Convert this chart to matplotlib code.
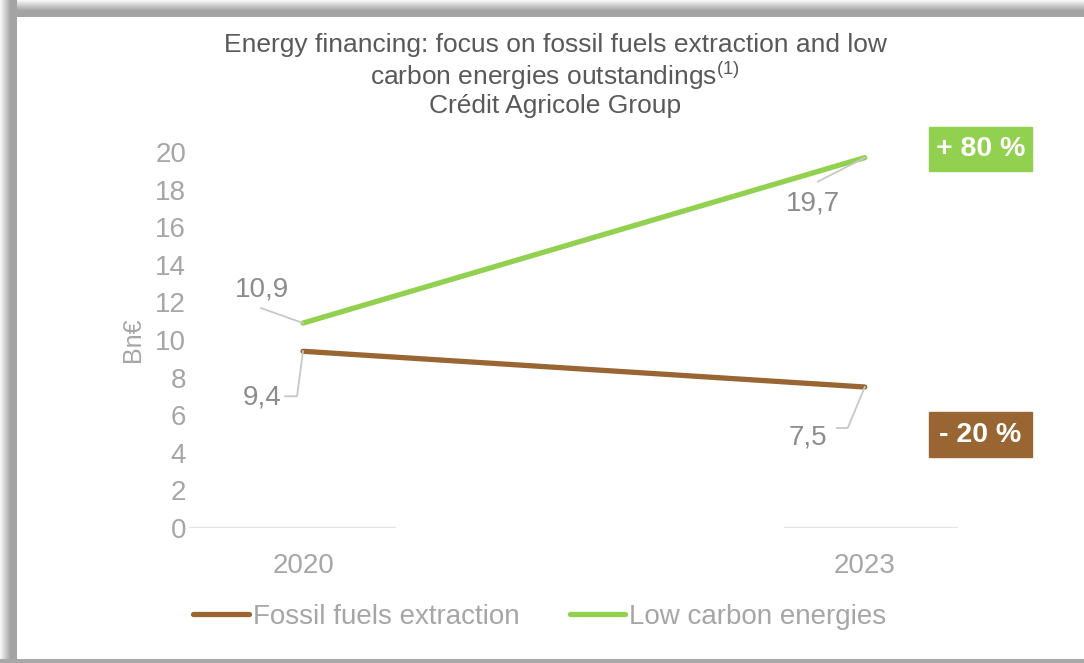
import matplotlib
matplotlib.use("Agg")
import matplotlib.pyplot as plt
import numpy as np
from matplotlib.lines import Line2D

plt.rcParams['font.family'] = ['Liberation Sans', 'DejaVu Sans']
plt.rcParams['mathtext.fontset'] = 'custom'
plt.rcParams['mathtext.rm'] = 'Liberation Sans'

years = ['2020', '2023']
fossil = [9.4, 7.5]
low_carbon = [10.9, 19.7]
fossil_labels = ['9,4', '7,5']
low_carbon_labels = ['10,9', '19,7']
yticks = list(range(0, 21, 2))

BROWN = '#996633'
GREEN = '#92d050'
TICK_GREY = '#a6a6a6'
LABEL_GREY = '#8c8c8c'
LEADER_GREY = '#c8c8c8'
FS = 20

W, H = 1084, 663
fig = plt.figure(figsize=(W / 100, H / 100), dpi=100)

# drop-shadow style frame around the chart area
bg = np.ones((H, W, 3))
shade = 0.64
for i in range(17):
    v = 1 - (1 - shade) * min(1.0, (i + 1) / 11.0)
    bg[:, i, :] = np.minimum(bg[:, i, :], v)
    bg[i, i:, :] = np.minimum(bg[i, i:, :], v)
bg[H - 4:, :, :] = 0.66
fig.figimage(bg[::-1], xo=0, yo=0, origin='lower', zorder=-5)

ax = fig.add_axes([189 / W, 1 - 528 / H, (958 - 189) / W, (528 - 152) / H])
ax.patch.set_alpha(0)
x = np.arange(len(years))

ax.plot(x, fossil, color=BROWN, lw=3.8, solid_capstyle='round', clip_on=False, zorder=3,
        label='Fossil fuels extraction')
ax.plot(x, low_carbon, color=GREEN, lw=3.8, solid_capstyle='round', clip_on=False, zorder=3,
        label='Low carbon energies')

ax.set_xlim(-0.203, 1.166)
ax.set_ylim(0, 20)
ax.set_xticks(x)
ax.set_xticklabels(years)
ax.set_yticks(yticks)
ax.tick_params(length=0, labelsize=FS, labelcolor=TICK_GREY)
ax.tick_params(axis='x', pad=18)
ax.tick_params(axis='y', pad=2)
for s in ax.spines.values():
    s.set_visible(False)

# zero line is broken in the middle
ax.axhline(0, xmin=0, xmax=0.268, color='#e3e3e3', lw=1.6)
ax.axhline(0, xmin=0.775, xmax=1, color='#e3e3e3', lw=1.6)

ax.set_ylabel('Bn€', fontsize=18, color=TICK_GREY)
ax.yaxis.set_label_coords(-0.057, 0.5)

fig.canvas.draw()


def leader(xi, yi, pts):
    px, py = ax.transData.transform((xi, yi))
    xs = [px + dx for dx, dy in pts]
    ys = [py + dy for dx, dy in pts]
    fig.add_artist(Line2D(xs, ys, transform=None, color=LEADER_GREY, lw=1.3, zorder=2))


def label(xi, yi, txt, dx, dy):
    ax.annotate(txt, (xi, yi), xytext=(dx, dy), textcoords='offset pixels',
                ha='center', va='center', fontsize=FS, color=LABEL_GREY)


label(0, low_carbon[0], low_carbon_labels[0], -41, 34)
leader(0, low_carbon[0], [(0, 0), (-42, 15)])
label(0, fossil[0], fossil_labels[0], -41, -46)
leader(0, fossil[0], [(0, 0), (-6, -45), (-18, -45)])
label(1, low_carbon[1], low_carbon_labels[1], -52, -46)
leader(1, low_carbon[1], [(0, 0), (-47, -24)])
label(1, fossil[1], fossil_labels[1], -57, -50)
leader(1, fossil[1], [(0, 0), (-17, -41), (-28, -41)])

# change badges
green_pct = int((low_carbon[1] / low_carbon[0] - 1) * 100)
brown_pct = int((fossil[1] / fossil[0] - 1) * 100)
badge_green = '+ %d %%' % green_pct
badge_brown = '- %d %%' % abs(brown_pct)
for txt, col, y0, y1 in [(badge_green, GREEN, 127, 171), (badge_brown, BROWN, 412, 457)]:
    fig.add_artist(plt.Rectangle((929 / W, 1 - y1 / H), (1032 - 929) / W, (y1 - y0) / H,
                                 transform=fig.transFigure, color=col, zorder=2))
    fig.text(980.5 / W, 1 - (y0 + y1) / 2 / H, txt, ha='center', va='center',
             fontsize=20.5, fontweight='bold', color='white', zorder=3)

# title
title_col = '#595959'
fig.text(555 / W, 1 - 45 / H, 'Energy financing: focus on fossil fuels extraction and low',
         ha='center', va='center', fontsize=19, color=title_col)
fig.text(555 / W, 1 - 76 / H, r'carbon energies outstandings$^{\mathrm{(1)}}$',
         ha='center', va='center', fontsize=19, color=title_col)
fig.text(555 / W, 1 - 106 / H, 'Crédit Agricole Group',
         ha='center', va='center', fontsize=19, color=title_col)

fig.legend(loc='center', bbox_to_anchor=(540 / W, 1 - 617 / H), ncol=2, frameon=False,
           fontsize=FS, labelcolor=TICK_GREY, handlelength=2.0, handletextpad=0.15,
           columnspacing=1.8)

fig.savefig('out.png', dpi=100)
